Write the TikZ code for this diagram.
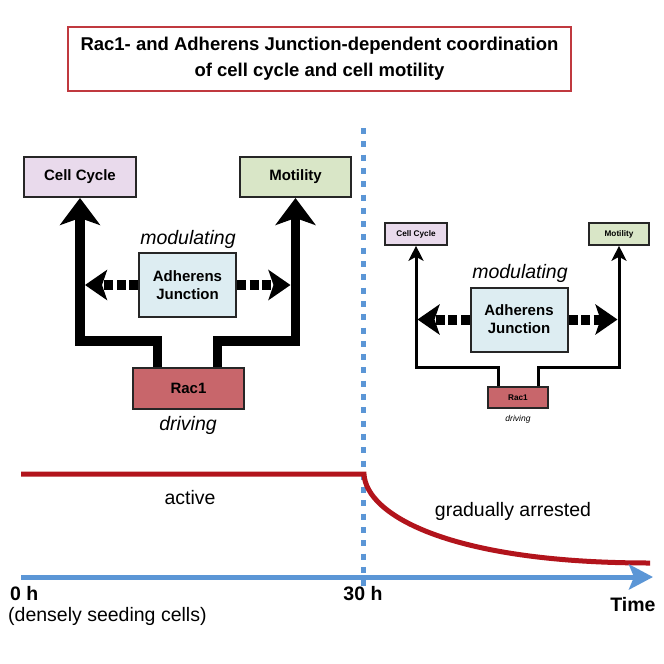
\documentclass[tikz,border=0pt]{standalone}
\usepackage{fontspec}
\setmainfont{Liberation Sans}
\usetikzlibrary{arrows.meta}
\definecolor{cellc}{HTML}{E9DAEC}
\definecolor{motil}{HTML}{D9E6C7}
\definecolor{ajc}{HTML}{DDEDF2}
\definecolor{racc}{HTML}{C8666B}
\definecolor{boxline}{HTML}{262626}
\definecolor{titlered}{HTML}{C0393F}
\definecolor{curvered}{HTML}{B2141C}
\definecolor{axisblue}{HTML}{5B96D6}
\tikzset{
  box/.style={draw=boxline, line width=2pt, inner sep=0pt, align=center},
  bigbox/.style={box, font=\fontsize{15}{17}\selectfont\bfseries},
  smallbox/.style={box, line width=1.6pt, font=\fontsize{8.2}{10}\selectfont\bfseries},
  ajbox/.style={box, fill=ajc, minimum width=97pt, minimum height=64pt, font=\fontsize{15}{18}\selectfont\bfseries},
  bigarrow/.style={line width=9.5pt, black, line join=miter, -{Stealth[length=27pt, width=40pt, inset=7pt]}},
  smallarrow/.style={line width=3pt, black, line join=miter, -{Stealth[length=15pt, width=15pt, inset=4pt]}},
  dasharrow/.style={line width=10pt, black, dash pattern=on 9pt off 3.5pt, -{Stealth[length=22pt, width=30pt, inset=5pt]}},
  lab/.style={font=\fontsize{19.5}{22}\selectfont, inner sep=0pt},
  blab/.style={font=\fontsize{19.5}{22}\selectfont\bfseries, inner sep=0pt},
  itlab/.style={font=\fontsize{19.5}{22}\selectfont\itshape, inner sep=0pt},
}
\begin{document}
\begin{tikzpicture}[x=1pt, y=-1pt]
\useasboundingbox (0,0) rectangle (664,664);
\fill[white] (0,0) rectangle (664,664);

% title
\node[draw=titlered, line width=2pt, minimum width=503pt, minimum height=64pt, align=center,
      font=\fontsize{18.5}{26}\selectfont\bfseries] (title) at (319.5,59) {Rac1- and Adherens Junction-dependent coordination\\of cell cycle and cell motility};

% left diagram
\node[bigbox, fill=cellc, minimum width=112pt, minimum height=40pt] (cc1) at (80,177) {Cell Cycle};
\node[bigbox, fill=motil, minimum width=111pt, minimum height=40pt] (mo1) at (295.5,177) {Motility};
\node[ajbox] (aj1) at (187.5,285) {Adherens\\Junction};
\node[bigbox, fill=racc, minimum width=111pt, minimum height=41pt] (rac1) at (188.5,388.5) {Rac1};
\node[itlab] (mod1) at (188,239) {modulating};
\node[itlab] (drv1) at (188,425) {driving};

\draw[bigarrow] ([xshift=-31pt]rac1.north) -- ++(0,-26) -| (cc1.south);
\draw[bigarrow] ([xshift=29pt]rac1.north) -- ++(0,-26) -| (mo1.south);
\draw[dasharrow] (aj1.west) -- ([xshift=5pt]cc1.south |- aj1.west);
\draw[dasharrow] (aj1.east) -- ([xshift=-5pt]mo1.south |- aj1.east);

% right diagram
\node[smallbox, fill=cellc, minimum width=62pt, minimum height=22pt] (cc2) at (416,234) {Cell Cycle};
\node[smallbox, fill=motil, minimum width=60pt, minimum height=22pt] (mo2) at (619,234) {Motility};
\node[ajbox] (aj2) at (519,319.5) {Adherens\\Junction};
\node[smallbox, fill=racc, minimum width=60pt, minimum height=21pt] (rac2) at (518,397.5) {Rac1};
\node[itlab] (mod2) at (520,273) {modulating};
\node[font=\fontsize{8.5}{10}\selectfont\itshape, inner sep=0pt] (drv2) at (518,419) {driving};

\draw[smallarrow] ([xshift=-20pt]rac2.north) -- ++(0,-19) -| (cc2.south);
\draw[smallarrow] ([xshift=20pt]rac2.north) -- ++(0,-19) -| (mo2.south);
\draw[dasharrow] (aj2.west) -- ([xshift=1.5pt]cc2.south |- aj2.west);
\draw[dasharrow] (aj2.east) -- ([xshift=-1.5pt]mo2.south |- aj2.east);

% timeline
\coordinate (vtop) at (363,128);
\coordinate (vbot) at (363,586);
\draw[axisblue, line width=5pt, dash pattern=on 6pt off 7.3pt] (vtop) -- (vbot);

\coordinate (r0) at (21,474);
\coordinate (r1) at (364,474);
\coordinate (r2) at (650,563);
\draw[curvered, line width=5pt, line join=miter] (r0) -- (r1) .. controls (366,515) and (450,563) .. (r2);

\coordinate (a0) at (21,577);
\coordinate (a1) at (653,577);
\draw[axisblue, line width=5pt, -{Stealth[length=24pt, width=25pt, inset=5pt]}] (a0) -- (a1);

\node[lab] (active) at (190,498) {active};
\node[lab] (grad) at (513,511) {gradually arrested};
\node[blab, anchor=west] (zero) at (10,594) {0 h};
\node[lab, anchor=west] (dens) at (8,616) {(densely seeding cells)};
\node[blab] (thirty) at (363,594) {30 h};
\node[blab] (time) at (633,605) {Time};
\end{tikzpicture}
\end{document}
